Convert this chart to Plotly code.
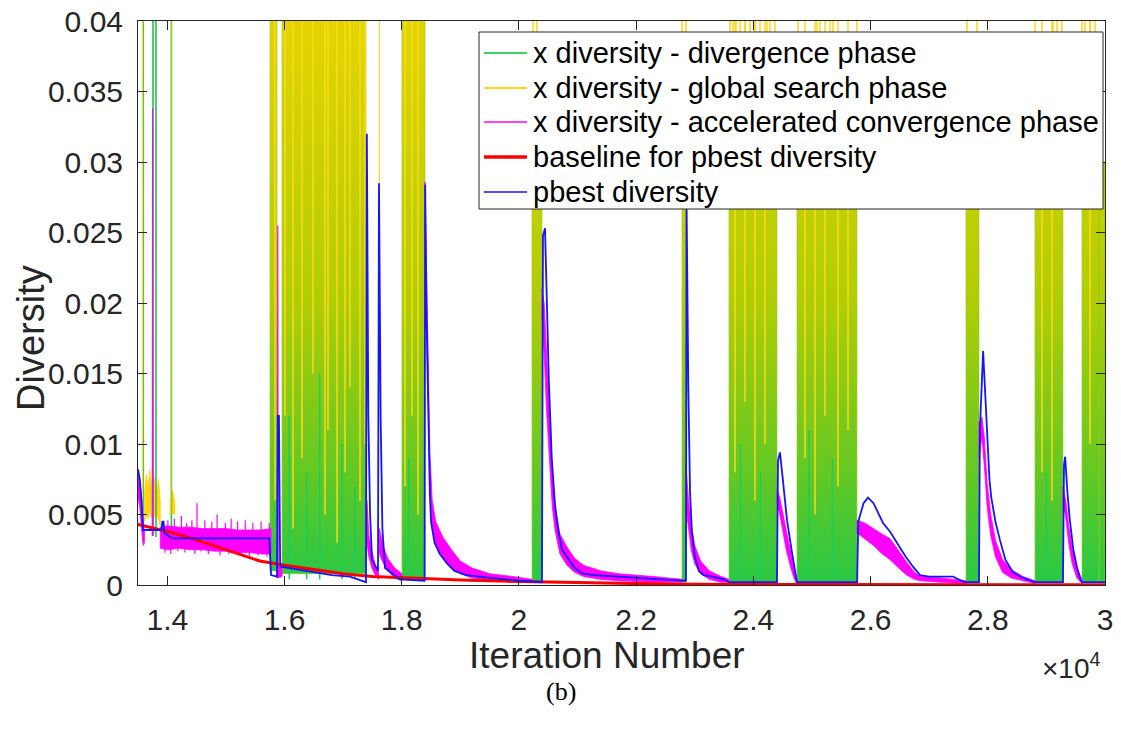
import plotly.graph_objects as go

# ---------------- axis ticks ----------------
x_ticks = [14000, 16000, 18000, 20000, 22000, 24000, 26000, 28000, 30000]
x_tick_labels = ['1.4', '1.6', '1.8', '2', '2.2', '2.4', '2.6', '2.8', '3']
y_ticks = [0, 0.005, 0.01, 0.015, 0.02, 0.025, 0.03, 0.035, 0.04]
y_tick_labels = ['0', '0.005', '0.01', '0.015', '0.02', '0.025', '0.03', '0.035', '0.04']

# ---------------- legend ----------------
legend_labels = ['x diversity - divergence phase',
                 'x diversity - global search phase',
                 'x diversity - accelerated convergence phase',
                 'baseline for pbest diversity',
                 'pbest diversity']

# ---------------- x diversity: dense divergence / global-search bands ----------------
band_start = [15752, 15957, 18004, 20223, 22782, 23584, 24744, 27628, 28805, 29607, 29900]
band_end = [15872, 17390, 18397, 20393, 22850, 24403, 25768, 27850, 29283, 29900, 30000]
band_bottom = [0.0010, 0.0008, 0.0004, 0.0002, 0.0002, 0.0002, 0.0002, 0.0002, 0.0002, 0.0002, 0.0002]
band_top = [0.045, 0.045, 0.045, 0.038, 0.038, 0.038, 0.038, 0.038, 0.038, 0.038, 0.030]

# thin global-search lines that reach above the legend
top_line_iter = [20240, 20308, 22782, 22850, 23601, 23652, 23704, 23772, 23857, 23943, 24028,
                 24113, 24233, 24284, 24369, 24762, 25086, 25137, 25308, 25359, 25768, 27645,
                 27816, 28806, 29113, 29181, 29266, 29607, 29659, 29744, 29829]

# bright yellow streaks inside bands (iteration, lowest value)
yellow_stripe_iter = [15838, 16008, 16145, 16298, 16486, 16691, 16742, 16896, 17032, 17117, 17288,
                      17373, 18056, 18175, 18278, 23687, 23857, 24028, 24198, 24881, 25052, 25222,
                      25444, 25615, 28925, 29096, 29744]
yellow_stripe_low = [0.006, 0.012, 0.004, 0.009, 0.015, 0.005, 0.011, 0.003, 0.008, 0.014, 0.006,
                     0.010, 0.007, 0.012, 0.005, 0.008, 0.013, 0.006, 0.010, 0.009, 0.005, 0.012,
                     0.007, 0.011, 0.008, 0.006, 0.010]

# bright green streaks in lower part of bands (iteration, highest value)
green_stripe_iter = [16080, 16380, 16600, 16980, 17200, 18120, 23780, 24120, 24950, 25350, 29000]
green_stripe_high = [0.012, 0.008, 0.015, 0.010, 0.007, 0.009, 0.010, 0.008, 0.011, 0.009, 0.008]

# isolated early spikes
green_spike_iter = [13590, 13756, 13807, 14070]
green_spike_low = [0.0030, 0.0035, 0.0034, 0.0036]
yellow_spike_iter = [13578, 14060, 17618]
yellow_spike_low = [0.0045, 0.0050, 0.0280]

# early global-search noise (iteration, low, high)
yellow_noise = [(13610, 0.0045, 0.0065), (13640, 0.0050, 0.0078), (13670, 0.0047, 0.0070),
                (13700, 0.0052, 0.0082), (13730, 0.0048, 0.0068), (13760, 0.0046, 0.0080),
                (13790, 0.0050, 0.0072), (13820, 0.0049, 0.0066), (13850, 0.0047, 0.0075),
                (13880, 0.0042, 0.0060)]
yellow_noise2 = [(14046, 0.0050, 0.0062), (14090, 0.0051, 0.0067), (14131, 0.0050, 0.0058)]

# ---------------- x diversity: accelerated convergence (magenta) ----------------
mag_seg0 = [(13500, 0.0062, 0.0082), (13530, 0.0055, 0.0076), (13560, 0.0040, 0.0062),
            (13590, 0.0028, 0.0045), (13610, 0.0030, 0.0038)]
mag_seg1 = [(13880, 0.0026, 0.0041), (14000, 0.0025, 0.0042), (14200, 0.0026, 0.0041),
            (14400, 0.0025, 0.0041), (14600, 0.0025, 0.0040), (14800, 0.0024, 0.0040),
            (15000, 0.0024, 0.0040), (15200, 0.0023, 0.0039), (15400, 0.0023, 0.0039),
            (15600, 0.0022, 0.0039), (15770, 0.0022, 0.0040)]
mag_noise_spike_iter = [13930, 14010, 14120, 14240, 14330, 14420, 14507, 14640, 14760, 14850,
                        14990, 15090, 15200, 15330, 15460, 15600, 15740]
mag_noise_spike_peak = [0.0044, 0.0046, 0.0047, 0.0049, 0.0044, 0.0046, 0.0058, 0.0046, 0.0045,
                        0.0050, 0.0044, 0.0047, 0.0045, 0.0046, 0.0044, 0.0045, 0.0044]
mag_noise_dip_iter = [13960, 14060, 14180, 14300, 14470, 14580, 14700, 14900, 15050, 15260,
                      15400, 15550, 15700]
mag_noise_dip_low = [0.0023, 0.0022, 0.0024, 0.0023, 0.0022, 0.0024, 0.0022, 0.0021, 0.0022,
                     0.0021, 0.0020, 0.0021, 0.0020]
mag_seg2 = [(15872, 0.0005, 0.0016), (15957, 0.0006, 0.0012)]
mag_seg3 = [(17405, 0.0030, 0.0060), (17440, 0.0020, 0.0035), (17490, 0.0012, 0.0024),
            (17550, 0.0007, 0.0014), (17605, 0.0004, 0.0009)]
mag_seg4 = [(17620, 0.0022, 0.0040), (17680, 0.0016, 0.0028), (17760, 0.0010, 0.0019),
            (17880, 0.0005, 0.0012), (18004, 0.0003, 0.0008)]
mag_seg5 = [(18397, 0.0250, 0.0286), (18420, 0.0190, 0.0250), (18450, 0.0120, 0.0170),
            (18480, 0.0065, 0.0095), (18520, 0.0040, 0.0060), (18580, 0.0028, 0.0045),
            (18700, 0.0019, 0.0034), (18850, 0.0012, 0.0025), (19000, 0.0008, 0.0017),
            (19200, 0.0005, 0.0012), (19500, 0.0003, 0.0008), (19900, 0.0002, 0.0006),
            (20223, 0.0002, 0.0004)]
mag_seg6 = [(20393, 0.0190, 0.0210), (20430, 0.0165, 0.0200), (20470, 0.0125, 0.0165),
            (20520, 0.0085, 0.0120), (20570, 0.0055, 0.0078), (20620, 0.0038, 0.0055),
            (20700, 0.0022, 0.0036), (20820, 0.0014, 0.0027), (20950, 0.0009, 0.0019),
            (21100, 0.0006, 0.0014), (21400, 0.0004, 0.0010), (21700, 0.0003, 0.0008),
            (22300, 0.0002, 0.0006), (22782, 0.0002, 0.0004)]
mag_seg7 = [(22850, 0.0055, 0.0085), (22890, 0.0040, 0.0062), (22940, 0.0025, 0.0042),
            (23000, 0.0015, 0.0028), (23100, 0.0008, 0.0017), (23250, 0.0004, 0.0010),
            (23450, 0.0002, 0.0006), (23584, 0.0002, 0.0004)]
mag_seg8 = [(24403, 0.0058, 0.0068), (24450, 0.0050, 0.0062), (24500, 0.0039, 0.0052),
            (24560, 0.0025, 0.0038), (24640, 0.0012, 0.0022), (24700, 0.0004, 0.0010),
            (24744, 0.0001, 0.0004)]
mag_seg9 = [(25768, 0.0037, 0.0046), (25900, 0.0033, 0.0044), (26050, 0.0028, 0.0040),
            (26200, 0.0022, 0.0036), (26330, 0.0018, 0.0033), (26480, 0.0012, 0.0024),
            (26620, 0.0007, 0.0016), (26750, 0.0004, 0.0009), (26850, 0.0003, 0.0006),
            (27200, 0.0002, 0.0005), (27628, 0.0001, 0.0003)]
mag_seg10 = [(27850, 0.0090, 0.0115), (27900, 0.0105, 0.0119), (27940, 0.0085, 0.0105),
             (27990, 0.0055, 0.0072), (28050, 0.0035, 0.0050), (28130, 0.0020, 0.0032),
             (28250, 0.0009, 0.0018), (28400, 0.0005, 0.0011), (28600, 0.0003, 0.0006),
             (28805, 0.0001, 0.0003)]
mag_seg11 = [(29283, 0.0058, 0.0070), (29330, 0.0048, 0.0060), (29380, 0.0030, 0.0042),
             (29440, 0.0015, 0.0026), (29520, 0.0005, 0.0012), (29607, 0.0001, 0.0004)]
mag_spike_iter = [13750, 15885]
mag_spike_peak = [0.0338, 0.0255]
mag_spike_base = [0.0035, 0.0010]

# ---------------- baseline for pbest diversity ----------------
baseline = [(13500, 0.0043), (14000, 0.0038), (14500, 0.0032), (15000, 0.0025), (15580, 0.0017),
            (16000, 0.0014), (16500, 0.0011), (17000, 0.0008), (17500, 0.0006), (18000, 0.0005),
            (19000, 0.00035), (20000, 0.00025), (21000, 0.00015), (22000, 0.0001),
            (23000, 0.00006), (25000, 0.00003), (30000, 0.00001)]

# ---------------- pbest diversity ----------------
pbest = [(13500, 0.0082), (13530, 0.0075), (13560, 0.0060), (13585, 0.0039), (13900, 0.0039),
         (13915, 0.0045), (13935, 0.0045), (13950, 0.0037), (14046, 0.0034), (14100, 0.0033),
         (15740, 0.0033), (15770, 0.0007), (15872, 0.0006), (15885, 0.0120), (15905, 0.0120),
         (15925, 0.0016), (15940, 0.0013), (16213, 0.0011), (16486, 0.0009), (16810, 0.0007),
         (17117, 0.0006), (17237, 0.0004), (17390, 0.0002), (17405, 0.0320), (17430, 0.0120),
         (17460, 0.0050), (17493, 0.0018), (17595, 0.0010), (17612, 0.0285), (17640, 0.0120),
         (17670, 0.0040), (17715, 0.0012), (17834, 0.0008), (17970, 0.0004), (18390, 0.0003),
         (18400, 0.0284), (18420, 0.0200), (18450, 0.0120), (18480, 0.0065), (18500, 0.0045),
         (18560, 0.0030), (18650, 0.0022), (18780, 0.0015), (18900, 0.0010), (19100, 0.0007),
         (19500, 0.0005), (20000, 0.0003), (20393, 0.0002), (20410, 0.0248), (20445, 0.0253),
         (20480, 0.0200), (20510, 0.0145), (20560, 0.0090), (20615, 0.0057), (20670, 0.0039),
         (20735, 0.0025), (20820, 0.0020), (20950, 0.0012), (21090, 0.0008), (21300, 0.0007),
         (21700, 0.0006), (22000, 0.0005), (22400, 0.0004), (22850, 0.0003), (22860, 0.0273),
         (22890, 0.0140), (22920, 0.0065), (22950, 0.0039), (23000, 0.0020), (23070, 0.0010),
         (23150, 0.0007), (23300, 0.0006), (23500, 0.0004), (23584, 0.0002), (24403, 0.0002),
         (24420, 0.0088), (24454, 0.0094), (24505, 0.0074), (24574, 0.0046), (24659, 0.0023),
         (24744, 0.0002), (25770, 0.0002), (25790, 0.0045), (25880, 0.0058), (25956, 0.0062),
         (26050, 0.0058), (26212, 0.0044), (26330, 0.0038), (26451, 0.0030), (26600, 0.0020),
         (26724, 0.0013), (26843, 0.0007), (27000, 0.0006), (27406, 0.0006), (27500, 0.0004),
         (27611, 0.0002), (27850, 0.0002), (27865, 0.0110), (27920, 0.0166), (27960, 0.0135),
         (28000, 0.0095), (28030, 0.0074), (28060, 0.0062), (28130, 0.0045), (28207, 0.0032),
         (28300, 0.0018), (28430, 0.0009), (28600, 0.0005), (28800, 0.0002), (29283, 0.0002),
         (29300, 0.0085), (29320, 0.0091), (29360, 0.0065), (29400, 0.0046), (29460, 0.0025),
         (29520, 0.0013), (29580, 0.0004), (29607, 0.0002), (30000, 0.0002)]

# ---------------- styles ----------------
GREEN = 'rgb(60,210,100)'
YELLOW = 'rgb(255,214,20)'
MAGENTA = 'rgb(255,0,255)'
RED = 'rgb(255,0,0)'
BLUE = 'rgb(20,20,255)'
legend_colors = [GREEN, YELLOW, MAGENTA, RED, BLUE]
legend_widths = [2, 2, 1.5, 3.5, 1.5]
AXIS = '#262626'
FONT = 'Liberation Sans, Arial, Helvetica, sans-serif'

W, H = 1121, 729
L, R, T, B = 138, 16, 21, 144
PW, PH = W - L - R, H - T - B


def px_x(x):
    return (x - L) / PW


def px_y(y):
    return (H - B - y) / PH


def vlines(xs, lows, highs):
    X, Y = [], []
    for x, lo, hi in zip(xs, lows, highs):
        X += [x, x, None]
        Y += [lo, hi, None]
    return X, Y


def envelope(seg):
    xs = [p[0] for p in seg]
    lo = [p[1] for p in seg]
    hi = [p[2] for p in seg]
    return xs + xs[::-1] + [xs[0], None], lo + hi[::-1] + [lo[0], None]


fig = go.Figure()

# bands
bx, by = [], []
for s, e, b, t in zip(band_start, band_end, band_bottom, band_top):
    bx += [s, e, e, s, s, None]
    by += [b, b, t, t, b, None]
fig.add_trace(go.Scatter(
    x=bx, y=by, mode='lines', fill='toself', line=dict(width=0.6, color='rgb(150,205,20)'),
    fillgradient=dict(type='vertical', start=0, stop=0.04,
                      colorscale=[[0, 'rgb(40,200,70)'], [0.2, 'rgb(100,200,35)'],
                                  [0.5, 'rgb(175,205,5)'], [1, 'rgb(228,212,0)']]),
    showlegend=False, hoverinfo='skip'))

gx, gy = vlines(green_stripe_iter, [0.0004] * len(green_stripe_iter), green_stripe_high)
fig.add_trace(go.Scatter(x=gx, y=gy, mode='lines', line=dict(width=1.5, color='rgb(30,205,90)'),
                         showlegend=False, hoverinfo='skip'))
yx, yy = vlines(yellow_stripe_iter, yellow_stripe_low, [0.045] * len(yellow_stripe_iter))
fig.add_trace(go.Scatter(x=yx, y=yy, mode='lines', line=dict(width=1.5, color='rgb(250,218,30)'),
                         showlegend=False, hoverinfo='skip'))
tx, ty = vlines(top_line_iter, [0.037] * len(top_line_iter), [0.045] * len(top_line_iter))
fig.add_trace(go.Scatter(x=tx, y=ty, mode='lines', line=dict(width=1.5, color=YELLOW),
                         showlegend=False, hoverinfo='skip'))

for seg in (yellow_noise, yellow_noise2):
    ex, ey = envelope(seg)
    fig.add_trace(go.Scatter(x=ex, y=ey, mode='lines', fill='toself', fillcolor=YELLOW,
                             line=dict(width=0.8, color=YELLOW), showlegend=False, hoverinfo='skip'))
sx, sy = vlines(green_spike_iter, green_spike_low, [0.045] * len(green_spike_iter))
fig.add_trace(go.Scatter(x=sx, y=sy, mode='lines', line=dict(width=1.6, color='rgb(40,190,80)'),
                         showlegend=False, hoverinfo='skip'))
sx, sy = vlines(yellow_spike_iter, yellow_spike_low, [0.045] * len(yellow_spike_iter))
fig.add_trace(go.Scatter(x=sx, y=sy, mode='lines', line=dict(width=1.3, color='rgb(240,220,60)'),
                         showlegend=False, hoverinfo='skip'))

# magenta envelopes
mx, my = [], []
for seg in (mag_seg0, mag_seg1, mag_seg2, mag_seg3, mag_seg4, mag_seg5, mag_seg6, mag_seg7,
            mag_seg8, mag_seg9, mag_seg10, mag_seg11):
    ex, ey = envelope(seg)
    mx += ex
    my += ey
fig.add_trace(go.Scatter(x=mx, y=my, mode='lines', fill='toself', fillcolor=MAGENTA,
                         line=dict(width=0.8, color=MAGENTA), showlegend=False, hoverinfo='skip'))
nx, ny = vlines(mag_noise_spike_iter, [0.0035] * len(mag_noise_spike_iter), mag_noise_spike_peak)
dx, dy = vlines(mag_noise_dip_iter, mag_noise_dip_low, [0.0030] * len(mag_noise_dip_iter))
fig.add_trace(go.Scatter(x=nx + dx, y=ny + dy, mode='lines', line=dict(width=1.2, color=MAGENTA),
                         showlegend=False, hoverinfo='skip'))
kx, ky = [], []
for x, p, b in zip(mag_spike_iter, mag_spike_peak, mag_spike_base):
    kx += [x - 6, x, x + 6, None]
    ky += [b, p, b, None]
fig.add_trace(go.Scatter(x=kx, y=ky, mode='lines', line=dict(width=1.2, color=MAGENTA),
                         showlegend=False, hoverinfo='skip'))

# baseline
fig.add_trace(go.Scatter(x=[p[0] for p in baseline], y=[p[1] for p in baseline], mode='lines',
                         line=dict(width=3, color=RED), showlegend=False, hoverinfo='skip'))
# pbest
fig.add_trace(go.Scatter(x=[p[0] for p in pbest], y=[p[1] for p in pbest], mode='lines',
                         line=dict(width=1.8, color=BLUE), showlegend=False, hoverinfo='skip'))

# ---------------- legend box (drawn in paper space) ----------------
box_left, box_right, box_top, box_bottom = 479, 1103, 32, 209
row_y = [53, 88, 122, 157, 192]
shapes = [dict(type='rect', xref='paper', yref='paper', x0=px_x(box_left), x1=px_x(box_right),
               y0=px_y(box_bottom), y1=px_y(box_top), fillcolor='white',
               line=dict(color=AXIS, width=1), layer='above')]
annotations = []
for lab, col, w, ry in zip(legend_labels, legend_colors, legend_widths, row_y):
    shapes.append(dict(type='line', xref='paper', yref='paper', x0=px_x(484), x1=px_x(527),
                       y0=px_y(ry), y1=px_y(ry), line=dict(color=col, width=w), layer='above'))
    annotations.append(dict(text=lab, x=px_x(531), y=px_y(ry), xref='paper', yref='paper',
                            xanchor='left', yanchor='middle', showarrow=False,
                            font=dict(family=FONT, size=29, color='black')))

annotations += [
    dict(text='Iteration Number', x=px_x(607), y=px_y(655), xref='paper', yref='paper',
         xanchor='center', yanchor='middle', showarrow=False,
         font=dict(family=FONT, size=37, color=AXIS)),
    dict(text='Diversity', x=px_x(31), y=px_y(338), xref='paper', yref='paper', textangle=-90,
         xanchor='center', yanchor='middle', showarrow=False,
         font=dict(family=FONT, size=38, color=AXIS)),
    dict(text='×10<sup>4</sup>', x=px_x(1103), y=px_y(666), xref='paper', yref='paper',
         xanchor='right', yanchor='middle', showarrow=False,
         font=dict(family=FONT, size=28, color=AXIS)),
    dict(text='(b)', x=px_x(561), y=px_y(691), xref='paper', yref='paper',
         xanchor='center', yanchor='middle', showarrow=False,
         font=dict(family='Liberation Serif, Times New Roman, serif', size=26, color='black')),
]

fig.update_layout(
    width=W, height=H,
    margin=dict(l=L, r=R, t=T, b=B, autoexpand=False),
    paper_bgcolor='white', plot_bgcolor='white',
    font=dict(family=FONT, size=30, color=AXIS),
    showlegend=False,
    xaxis=dict(range=[13500, 30000], tickmode='array', tickvals=x_ticks, ticktext=x_tick_labels,
               ticks='inside', ticklen=9, tickcolor=AXIS, showline=True, linecolor=AXIS,
               linewidth=1, mirror='ticks', showgrid=False, zeroline=False, automargin=False,
               tickfont=dict(family=FONT, size=30, color=AXIS), ticklabelstandoff=8),
    yaxis=dict(range=[0, 0.04], tickmode='array', tickvals=y_ticks, ticktext=y_tick_labels,
               ticks='inside', ticklen=9, tickcolor=AXIS, showline=True, linecolor=AXIS,
               linewidth=1, mirror='ticks', showgrid=False, zeroline=False, automargin=False,
               tickfont=dict(family=FONT, size=30, color=AXIS), ticklabelstandoff=8),
    shapes=shapes,
    annotations=annotations,
)

fig.write_html('out.html', config={'displayModeBar': False},
               post_script="document.body.style.margin='0px';document.body.style.overflow='hidden';")
